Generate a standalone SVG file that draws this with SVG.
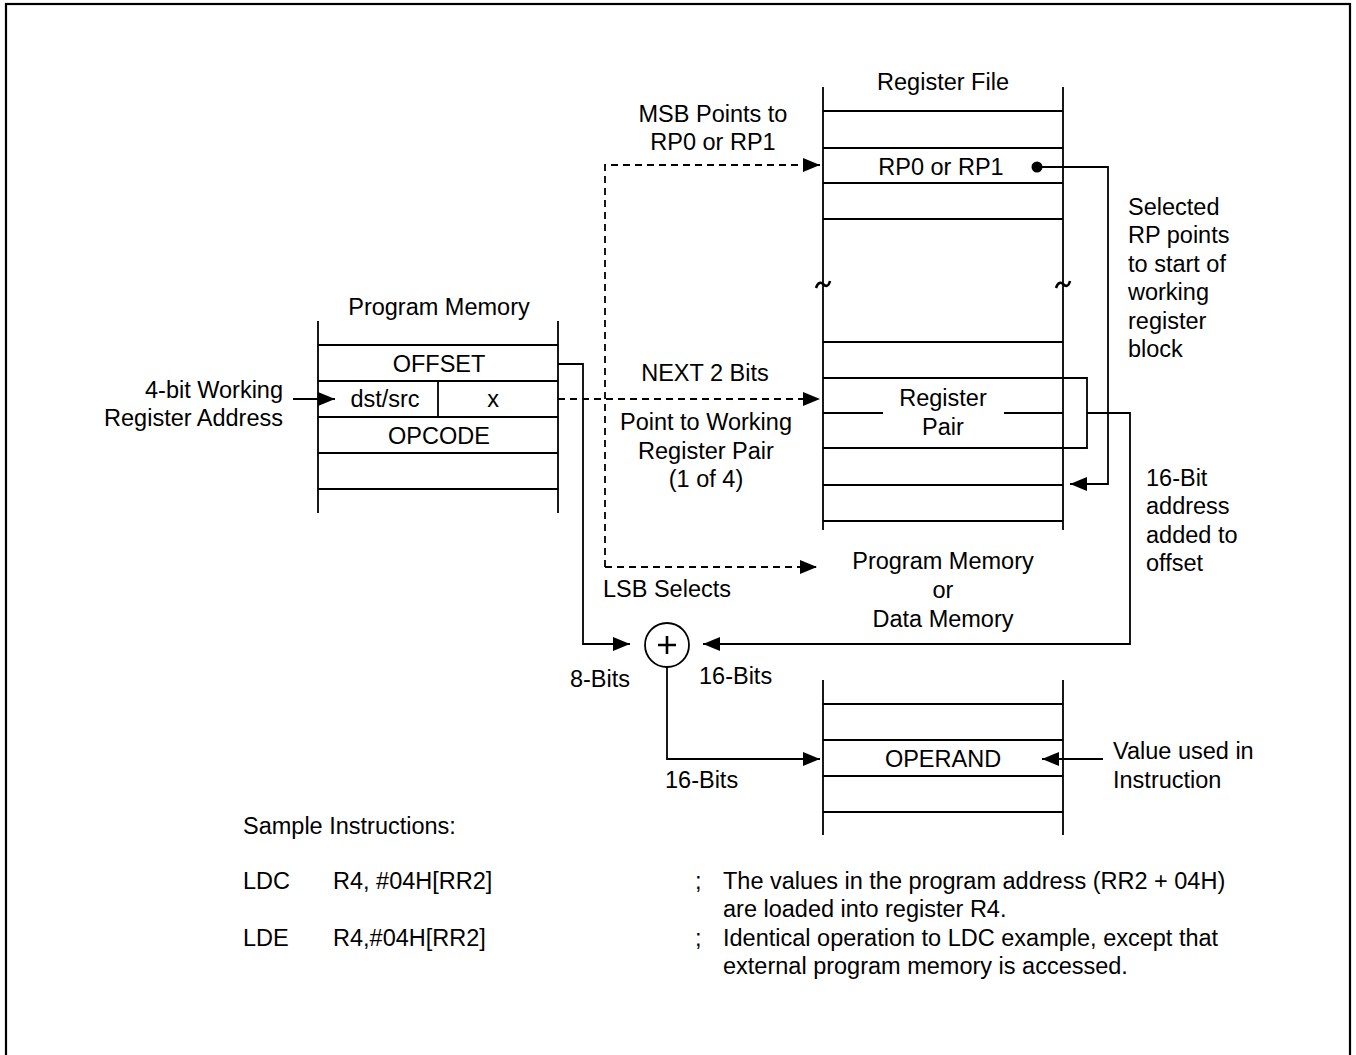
<svg xmlns="http://www.w3.org/2000/svg" width="1356" height="1055" viewBox="0 0 1356 1055">
<style>
text{font-family:"Liberation Sans",Arial,sans-serif;font-size:23.5px;fill:#000}
.m{text-anchor:middle}
.e{text-anchor:end}
.ln{stroke:#000;stroke-width:1.8;fill:none}
.ds{stroke:#000;stroke-width:1.8;fill:none;stroke-dasharray:7,5}
</style>
<defs>
<marker id="ah" markerWidth="17" markerHeight="14" refX="17" refY="7" orient="auto" markerUnits="userSpaceOnUse"><path d="M0,0 L17,7 L0,14 z" fill="#000"/></marker>
</defs>
<rect x="6" y="4" width="1344" height="1070" fill="#fff" stroke="#000" stroke-width="2.2"/>

<g id="register-file">
<text class="m" x="943" y="90">Register File</text>
<path class="ln" d="M823,87 V530 M1063,87 V530 M823,111 H1063 M823,148 H1063 M823,183 H1063 M823,219 H1063 M823,342 H1063 M823,378 H1063 M823,413 H883 M1004,413 H1063 M823,448 H1063 M823,485 H1063 M823,521 H1063"/>
<path stroke="#000" stroke-width="2.6" fill="none" d="M816,288 c2,-6 5,-6 7,-4 s5,4 7,-3 M1056,288 c2,-6 5,-6 7,-4 s5,4 7,-3"/>
<text class="m" x="941" y="175">RP0 or RP1</text>
<circle cx="1037" cy="167" r="5.5" fill="#000"/>
<text class="m" x="943" y="406">Register</text>
<text class="m" x="943" y="435">Pair</text>
</g>

<g id="program-memory">
<text class="m" x="439" y="315">Program Memory</text>
<path class="ln" d="M318,321 V513 M558,321 V513 M318,345 H558 M318,381 H558 M318,417 H558 M318,453 H558 M318,489 H558 M438,381 V417"/>
<text class="m" x="439" y="372">OFFSET</text>
<text class="m" x="385" y="407">dst/src</text>
<text class="m" x="493" y="407">x</text>
<text class="m" x="439" y="444">OPCODE</text>
</g>

<g id="working-register-label">
<text class="e" x="283" y="398">4-bit Working</text>
<text class="e" x="283" y="426">Register Address</text>
</g>

<g id="adder">
<circle cx="667" cy="645" r="22" fill="#fff" stroke="#000" stroke-width="1.8"/>
<path stroke="#000" stroke-width="2.6" d="M658,645 H676 M667,636 V654"/>
</g>

<g id="operand-memory">
<path class="ln" d="M823,680 V835 M1063,680 V835 M823,704 H1063 M823,740 H1063 M823,776 H1063 M823,812 H1063"/>
<text class="m" x="943" y="767">OPERAND</text>
</g>

<g id="connectors">
<path class="ln" d="M293,399 H335" marker-end="url(#ah)"/>
<path class="ds" d="M605,567 V165 H820" marker-end="url(#ah)"/>
<path class="ds" d="M558,399 H820" marker-end="url(#ah)"/>
<path class="ds" d="M605,567 H817" marker-end="url(#ah)"/>
<path class="ln" d="M1037,167 H1108 V484 H1070" marker-end="url(#ah)"/>
<path class="ln" d="M1063,378 H1087 V448 H1063"/>
<path class="ln" d="M1087,413 H1130 V644 H703" marker-end="url(#ah)"/>
<path class="ln" d="M558,364 H583 V644 H630" marker-end="url(#ah)"/>
<path class="ln" d="M667,667 V759 H820" marker-end="url(#ah)"/>
<path class="ln" d="M1103,759 H1042" marker-end="url(#ah)"/>
</g>

<g id="labels">
<text class="m" x="713" y="122">MSB Points to</text>
<text class="m" x="713" y="150">RP0 or RP1</text>
<text class="m" x="705" y="381">NEXT 2 Bits</text>
<text class="m" x="706" y="430">Point to Working</text>
<text class="m" x="706" y="459">Register Pair</text>
<text class="m" x="706" y="487">(1 of 4)</text>
<text x="603" y="597">LSB Selects</text>
<text class="m" x="943" y="569">Program Memory</text>
<text class="m" x="943" y="598">or</text>
<text class="m" x="943" y="627">Data Memory</text>
<text x="1128" y="215">Selected</text>
<text x="1128" y="243">RP points</text>
<text x="1128" y="272">to start of</text>
<text x="1128" y="300">working</text>
<text x="1128" y="329">register</text>
<text x="1128" y="357">block</text>
<text x="1146" y="486">16-Bit</text>
<text x="1146" y="514">address</text>
<text x="1146" y="543">added to</text>
<text x="1146" y="571">offset</text>
<text class="m" x="600" y="687">8-Bits</text>
<text x="699" y="684">16-Bits</text>
<text x="665" y="788">16-Bits</text>
<text x="1113" y="759">Value used in</text>
<text x="1113" y="788">Instruction</text>
</g>

<g id="sample-instructions">
<text x="243" y="834">Sample Instructions:</text>
<text x="243" y="889">LDC</text>
<text x="333" y="889">R4, #04H[RR2]</text>
<text x="695" y="889">;</text>
<text x="723" y="889">The values in the program address (RR2 + 04H)</text>
<text x="723" y="917">are loaded into register R4.</text>
<text x="243" y="946">LDE</text>
<text x="333" y="946">R4,#04H[RR2]</text>
<text x="695" y="946">;</text>
<text x="723" y="946">Identical operation to LDC example, except that</text>
<text x="723" y="974">external program memory is accessed.</text>
</g>
</svg>
